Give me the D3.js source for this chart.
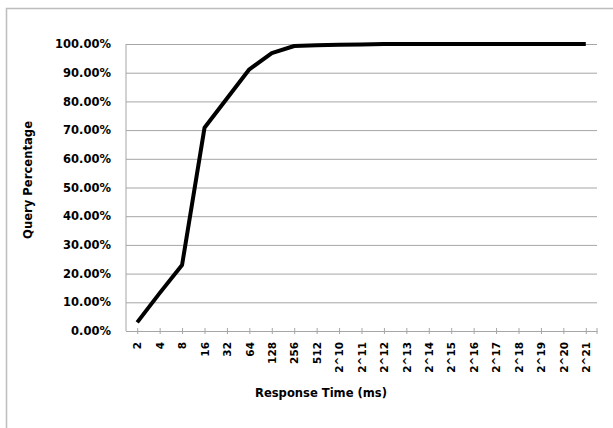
<!DOCTYPE html>
<html>
<head>
<meta charset="utf-8">
<script src="https://cdn.jsdelivr.net/npm/d3@7"></script>
<style>
  body { margin: 0; background: #fff; }
  text { font-family: "DejaVu Sans", sans-serif; font-weight: bold; fill: #000; }
</style>
</head>
<body>
<svg width="613" height="428"></svg>
<script>
(function (d3) {
  'use strict';

  // response time buckets (ms)
  const categories = ['2', '4', '8', '16', '32', '64', '128', '256', '512',
    '2^10', '2^11', '2^12', '2^13', '2^14', '2^15', '2^16', '2^17', '2^18', '2^19', '2^20', '2^21'];
  // cumulative query percentage
  const values = [3.0, 13.2, 23.0, 70.8, 81.0, 91.2, 96.8, 99.3, 99.6, 99.7, 99.8,
    100, 100, 100, 100, 100, 100, 100, 100, 100, 100];
  const yTicks = [0, 10, 20, 30, 40, 50, 60, 70, 80, 90, 100];

  const svg = d3.select('svg');

  // chart frame
  svg.append('path')
    .attr('d', 'M6.5,430V8.5H615')
    .attr('fill', 'none')
    .attr('stroke', '#bdbdbd')
    .attr('stroke-width', 1.5);

  const margin = { top: 44, left: 126, right: 16, bottom: 97 };
  const width = 613, height = 428;
  const innerWidth = width - margin.left - margin.right;
  const innerHeight = height - margin.top - margin.bottom;

  const g = svg.append('g')
    .attr('transform', `translate(${margin.left},${margin.top})`);

  const xScale = d3.scalePoint()
    .domain(categories)
    .range([0, innerWidth])
    .padding(0.5);

  const yScale = d3.scaleLinear()
    .domain([0, 100])
    .range([innerHeight, 0]);

  // gridlines + y axis
  const yAxis = d3.axisLeft(yScale)
    .tickValues(yTicks)
    .tickSize(-innerWidth)
    .tickPadding(15)
    .tickFormat(d => d.toFixed(2) + '%');

  const yAxisG = g.append('g').call(yAxis);
  yAxisG.select('.domain').remove();
  yAxisG.selectAll('.tick line').attr('stroke', '#a6a6a6').attr('stroke-width', 1);
  yAxisG.selectAll('.tick text').attr('font-size', 11.5);

  g.append('line')
    .attr('x1', 0).attr('x2', 0)
    .attr('y1', 0).attr('y2', innerHeight)
    .attr('stroke', '#a6a6a6');

  // x axis, ticks crossing the axis line
  const xAxis = d3.axisBottom(xScale)
    .tickSize(3)
    .tickSizeOuter(0);

  const xAxisG = g.append('g')
    .attr('transform', `translate(0,${innerHeight})`)
    .call(xAxis);
  xAxisG.select('.domain').attr('stroke', '#a6a6a6');
  xAxisG.selectAll('.tick line')
    .attr('y1', -3)
    .attr('y2', 3)
    .attr('stroke', '#a6a6a6');
  xAxisG.append('line')
    .attr('x1', innerWidth).attr('x2', innerWidth)
    .attr('y1', -3).attr('y2', 3)
    .attr('stroke', '#a6a6a6');
  xAxisG.selectAll('.tick text')
    .attr('font-size', 10.5)
    .attr('transform', 'rotate(-90)')
    .attr('text-anchor', 'end')
    .attr('dy', '0.36em')
    .attr('x', -11)
    .attr('y', 0);

  // line
  const line = d3.line()
    .x((d, i) => xScale(categories[i]))
    .y(d => yScale(d));

  g.append('path')
    .datum(values)
    .attr('fill', 'none')
    .attr('stroke', '#000')
    .attr('stroke-width', 4)
    .attr('stroke-linejoin', 'round')
    .attr('d', line);

  // axis titles
  svg.append('text')
    .attr('x', 321)
    .attr('y', 397)
    .attr('text-anchor', 'middle')
    .attr('font-size', 11.5)
    .attr('textLength', 132)
    .attr('lengthAdjust', 'spacingAndGlyphs')
    .text('Response Time (ms)');

  svg.append('text')
    .attr('transform', 'translate(32,180) rotate(-90)')
    .attr('text-anchor', 'middle')
    .attr('font-size', 11.5)
    .attr('textLength', 118)
    .attr('lengthAdjust', 'spacingAndGlyphs')
    .text('Query Percentage');
}(d3));
</script>
</body>
</html>
